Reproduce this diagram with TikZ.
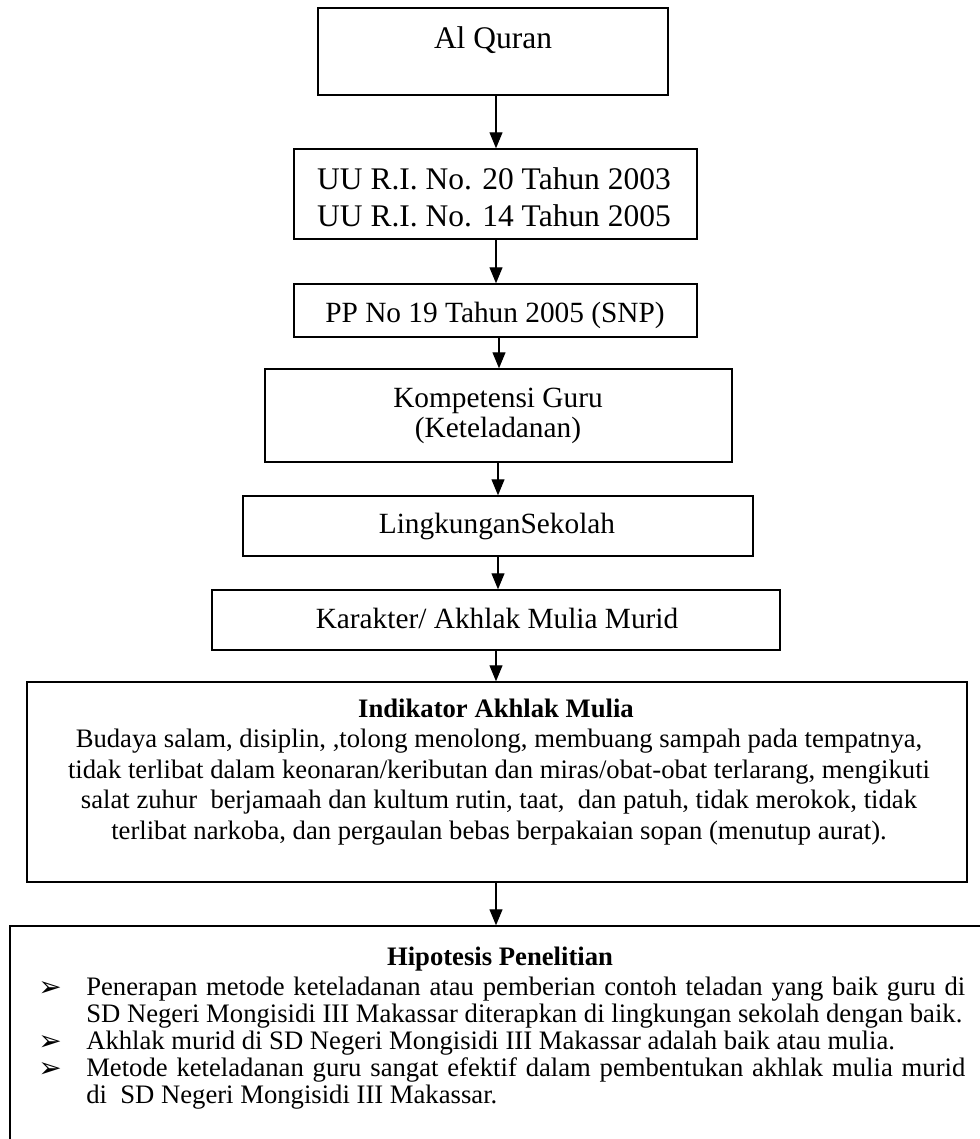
\documentclass[tikz,border=0pt]{standalone}
\usepackage{fontspec}
\setmainfont{Liberation Serif}
\newfontfamily\dvsans{DejaVu Sans}
\usetikzlibrary{fit,arrows.meta}
\begin{document}
\begin{tikzpicture}[x=0.75pt,y=-0.75pt,
  box/.style={draw, line width=1.1pt, inner sep=0pt},
  arr/.style={line width=0.9pt, -{Triangle[length=12pt,width=9.75pt]}},
  big/.style={font=\fontsize{23.6}{28}\selectfont, anchor=base, inner sep=0pt},
  mid/.style={font=\fontsize{22}{26}\selectfont, anchor=base, inner sep=0pt},
  small/.style={font=\fontsize{20}{24}\selectfont, anchor=base, inner sep=0pt},
  smallbf/.style={font=\fontsize{20}{24}\selectfont\bfseries, anchor=base, inner sep=0pt},
  line/.style={font=\fontsize{20}{24}\selectfont, anchor=base west, inner sep=0pt},
  bullet/.style={font=\dvsans\fontsize{21}{24}\selectfont, anchor=base west, inner sep=0pt}]
\useasboundingbox (0,0) rectangle (980,1139);
\clip (0,0) rectangle (980,1139);

% boxes
\node[box, fit={(318,8) (668,95)}] (b1) {};
\node[box, fit={(294,149) (697,239)}] (b2) {};
\node[box, fit={(294,284) (697,337)}] (b3) {};
\node[box, fit={(265,369) (732,462)}] (b4) {};
\node[box, fit={(243,496) (753,556)}] (b5) {};
\node[box, fit={(212,590) (780,650)}] (b6) {};
\node[box, fit={(27,682) (967,882)}] (b7) {};
\node[box, fit={(10,926) (1000,1170)}] (b8) {};

% texts
\node[big] (t1) at (493,48) {Al Quran};
\node[big] (t2a) at (494,189) {UU R.I. No. 20 Tahun 2003};
\node[big] (t2b) at (494,226) {UU R.I. No. 14 Tahun 2005};
\node[mid] (t3) at (495,322) {PP No 19 Tahun 2005 (SNP)};
\node[mid] (t4a) at (498,407) {Kompetensi Guru};
\node[mid] (t4b) at (498,437) {(Keteladanan)};
\node[mid] (t5) at (497,533) {LingkunganSekolah};
\node[mid] (t6) at (497,628) {Karakter/ Akhlak Mulia Murid};

\node[smallbf] (t7) at (496,717) {Indikator Akhlak Mulia};
\node[small] (t7a) at (499,747) {Budaya salam, disiplin, ,tolong menolong, membuang sampah pada tempatnya,};
\node[small] (t7b) at (499,778) {tidak terlibat dalam keonaran/keributan dan miras/obat-obat terlarang, mengikuti};
\node[small] (t7c) at (499,808) {salat zuhur~ berjamaah dan kultum rutin, taat,~ dan patuh, tidak merokok, tidak};
\node[small] (t7d) at (499,839) {terlibat narkoba, dan pergaulan bebas berpakaian sopan (menutup aurat).};

\node[smallbf] (t8) at (500,965) {Hipotesis Penelitian};
\node[bullet] (u1) at (38,996) {➢};
\node[line] (l1) at (86,995) {\makebox[659.25pt][s]{Penerapan metode keteladanan atau pemberian contoh teladan yang baik guru di}};
\node[line] (l2) at (86,1022) {SD Negeri Mongisidi III Makassar diterapkan di lingkungan sekolah dengan baik.};
\node[bullet] (u2) at (38,1050) {➢};
\node[line] (l3) at (86,1049) {Akhlak murid di SD Negeri Mongisidi III Makassar adalah baik atau mulia.};
\node[bullet] (u3) at (38,1077) {➢};
\node[line] (l4) at (86,1076) {\makebox[659.25pt][s]{Metode keteladanan guru sangat efektif dalam pembentukan akhlak mulia murid}};
\node[line] (l5) at (86,1103) {di~ SD Negeri Mongisidi III Makassar.};

% connectors
\coordinate (ax) at (496,0);
\coordinate (bx) at (499,0);
\coordinate (cx) at (498,0);
\draw[arr] (b1.south -| ax) -- (b2.north -| ax);
\draw[arr] (b2.south -| ax) -- (b3.north -| ax);
\draw[arr] (b3.south -| bx) -- (b4.north -| bx);
\draw[arr] (b4.south -| cx) -- (b5.north -| cx);
\draw[arr] (b5.south -| cx) -- (b6.north -| cx);
\draw[arr] (b6.south -| ax) -- (b7.north -| ax);
\draw[arr] (b7.south -| ax) -- (b8.north -| ax);
\end{tikzpicture}
\end{document}
